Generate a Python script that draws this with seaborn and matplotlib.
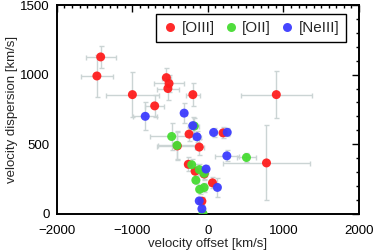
import numpy as np
import pandas as pd
import seaborn as sns
import matplotlib.pyplot as plt
from matplotlib.ticker import MultipleLocator

# [OIII]
oiii_x = [-1420, -1470, -1000, -705, -550, -515, -530, -200, 905, -250, 200, 775,
          -405, -115, -260, -170, -50, 60, -80]
oiii_y = [1127, 990, 856, 775, 978, 936, 900, 856, 856, 572, 581, 365,
          487, 479, 355, 305, 285, 222, 90]
oiii_xerr = [200, 210, 350, 125, 60, 200, 150, 90, 470, 40, 30, 570,
             265, 60, 50, 40, 40, 40, 20]
oiii_yerr = [80, 150, 160, 80, 70, 60, 80, 85, 170, 50, 40, 270,
             100, 60, 50, 50, 40, 40, 30]

# [OII]
oii_x = [-180, -480, -410, -215, -115, -50, -160, -110, -50, -65, 510]
oii_y = [630, 555, 491, 352, 317, 290, 241, 175, 188, 0, 404]
oii_xerr = [60, 290, 250, 40, 40, 30, 40, 30, 30, 20, 120]
oii_yerr = [60, 100, 100, 40, 40, 40, 30, 30, 30, 20, 30]

# [NeIII]
neiii_x = [-830, -315, -200, -145, 75, 255, 250, -25, 125, -115, -80]
neiii_y = [700, 723, 633, 553, 584, 585, 416, 321, 189, 92, 35]
neiii_xerr = [160, 40, 60, 50, 40, 40, 160, 30, 40, 20, 20]
neiii_yerr = [100, 70, 60, 40, 30, 30, 40, 30, 70, 20, 20]

lines = ["[OIII]", "[OII]", "[NeIII]"]
colors = {"[OIII]": "#ff1e1e", "[OII]": "#46dc32", "[NeIII]": "#3c3cff"}

df = pd.concat([
    pd.DataFrame({"offset": oiii_x, "disp": oiii_y, "xerr": oiii_xerr, "yerr": oiii_yerr, "line": "[OIII]"}),
    pd.DataFrame({"offset": oii_x, "disp": oii_y, "xerr": oii_xerr, "yerr": oii_yerr, "line": "[OII]"}),
    pd.DataFrame({"offset": neiii_x, "disp": neiii_y, "xerr": neiii_xerr, "yerr": neiii_yerr, "line": "[NeIII]"}),
], ignore_index=True)

sns.set_style("white")
plt.rcParams["font.family"] = ["Liberation Sans", "DejaVu Sans"]

fig, ax = plt.subplots(figsize=(3.74, 2.52), dpi=100)
fig.subplots_adjust(left=0.152, right=0.960, bottom=0.152, top=0.980)

ax.errorbar(df["offset"], df["disp"], xerr=df["xerr"], yerr=df["yerr"], fmt="none",
            ecolor="#cbd4d4", elinewidth=1.0, capsize=1.8, capthick=1.0, zorder=1)

sns.scatterplot(data=df, x="offset", y="disp", hue="line", hue_order=lines,
                palette=colors, s=42, linewidth=0, alpha=0.95, ax=ax, zorder=3)

ax.set_xlim(-2000, 2000)
ax.set_ylim(0, 1500)
ax.xaxis.set_major_locator(MultipleLocator(1000))
ax.xaxis.set_minor_locator(MultipleLocator(100))
ax.yaxis.set_major_locator(MultipleLocator(500))
ax.yaxis.set_minor_locator(MultipleLocator(100))
ax.tick_params(which="both", direction="in", top=True, right=True, colors="black",
               labelsize=9.5, width=1.0)
ax.tick_params(which="major", length=5)
ax.tick_params(axis="x", which="major", pad=8)
ax.tick_params(axis="y", which="major", pad=5)
ax.tick_params(which="minor", length=2.5)
for s in ax.spines.values():
    s.set_color("black")
    s.set_linewidth(1.4)

ax.set_xlabel("velocity offset [km/s]", fontsize=9.5, labelpad=1)
ax.set_ylabel("velocity dispersion [km/s]", fontsize=9.5, labelpad=2)

ax.legend(loc="upper right", ncol=3, fontsize=11, frameon=True, fancybox=False,
          edgecolor="black", framealpha=1, handlelength=0.9, handletextpad=0.3,
          columnspacing=0.6, borderpad=0.45, borderaxespad=0,
          bbox_to_anchor=(0.957, 0.955))
ax.get_legend().get_frame().set_linewidth(1.0)

fig.savefig("out.png", dpi=100)
